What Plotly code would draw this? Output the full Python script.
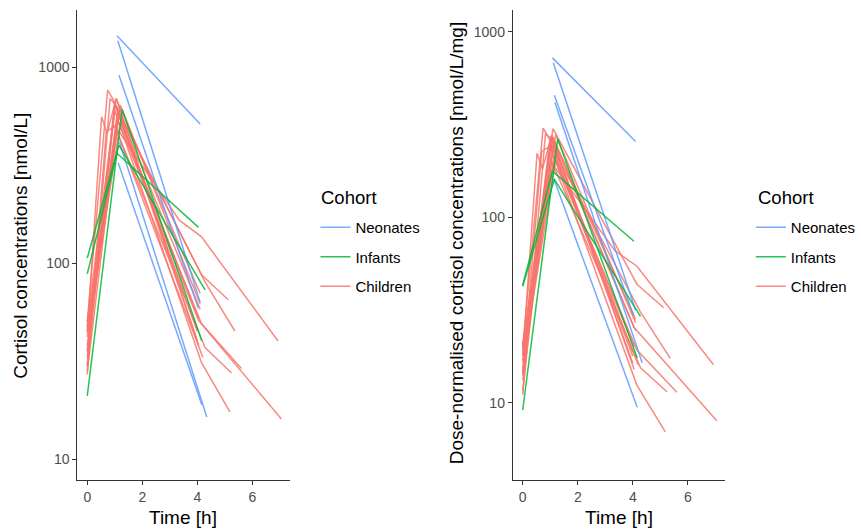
import plotly.graph_objects as go

W, H = 861, 530

# ---------------- data ----------------
cohorts = ["Neonates", "Infants", "Children"]
colors = {"Neonates": "#619CFF", "Infants": "#00BA38", "Children": "#F8766D"}

# Neonates: time [h], cortisol [nmol/L], dose [mg]
neo_times = [[1.08, 4.1], [1.11, 4.1], [1.15, 4.03], [1.12, 4.16], [1.17, 4.34]]
neo_conc = [[1445, 512], [1362, 63], [910, 59], [325, 18.9], [415, 16.4]]
neo_dose = [2.0, 2.0, 2.0, 2.0, 1.0]

# Infants
inf_times = [[0, 1.08, 4.04], [0, 1.15, 4.28], [0, 1.27, 4.16]]
inf_conc = [[88, 363, 152], [106, 400, 73], [21, 608, 40]]
inf_dose = [2.05, 2.5, 2.3]

# Children
chi_times = [
    [0, 1.1, 3.35, 4.15, 6.93],
    [0, 1.1, 4.15, 5.12],
    [0, 1.0, 4.28, 5.36],
    [0, 1.2, 4.15, 5.6],
    [0, 1.05, 4.28, 5.24],
    [0, 1.1, 4.04, 7.05],
    [0, 1.0, 4.15, 5.18],
    [0, 0.74, 0.95, 4.0],
    [0, 0.52, 0.72, 1.05, 4.05],
    [0, 1.13, 4.1],
    [0, 1.0, 4.0],
    [0, 1.2, 4.1],
    [0, 0.69, 1.0, 4.2],
    [0, 1.15, 4.05],
    [0, 0.83, 1.1, 4.0],
    [0, 1.05, 4.1],
]
chi_conc = [
    [45, 480, 165, 136, 40],
    [38, 600, 87, 65],
    [30, 650, 80, 45],
    [42, 520, 49, 29],
    [35, 480, 37, 27.5],
    [28, 540, 51, 16],
    [33, 600, 31, 17.4],
    [50, 763, 680, 45],
    [45, 557, 458, 692, 38],
    [48, 604, 58],
    [36, 653, 45],
    [47, 640, 62],
    [30, 468, 500, 33],
    [44, 560, 52],
    [27, 692, 620, 40],
    [50, 690, 70],
]
chi_dose = [2.5, 2.0, 2.6, 2.55, 2.4, 2.0, 2.5, 2.53, 2.52, 2.37, 2.4, 2.3, 2.07, 2.6, 2.45, 2.49]

x_ticks = [0, 2, 4, 6]
y_ticks = [10, 100, 1000]
y_ticktext = ["10", "100", "1000"]
legend_title = "Cohort"

groups = {
    "Neonates": (neo_times, neo_conc, neo_dose),
    "Infants": (inf_times, inf_conc, inf_dose),
    "Children": (chi_times, chi_conc, chi_dose),
}

# ---------------- figure ----------------
fig = go.Figure()
draw_order = ["Children", "Neonates", "Infants"]
for panel in (1, 2):
    xa = "x" if panel == 1 else "x2"
    ya = "y" if panel == 1 else "y2"
    lg = "legend" if panel == 1 else "legend2"
    for coh in draw_order:
        times, conc, dose = groups[coh]
        for i, (t, c, d) in enumerate(zip(times, conc, dose)):
            yv = c if panel == 1 else [v / d for v in c]
            fig.add_trace(go.Scatter(
                x=t, y=yv, mode="lines", name=coh,
                line=dict(color=colors[coh], width=1.5),
                opacity=0.85,
                xaxis=xa, yaxis=ya, legend=lg,
                legendgroup=f"{coh}{panel}",
                legendrank=cohorts.index(coh) + 1,
                showlegend=(i == 0),
                hoverinfo="skip",
            ))

def px_x(p):
    return p / W

def px_y(p):
    return 1 - p / H

axis_common = dict(
    showline=True, linecolor="#333333", linewidth=1.1,
    ticks="outside", ticklen=4, tickwidth=1.1, tickcolor="#333333",
    showgrid=False, zeroline=False,
    tickfont=dict(family="Liberation Sans, Arial, sans-serif", size=14, color="#4d4d4d"),
)

top, bottom = 10, 480
legend_common = dict(
    xanchor="left", yanchor="top",
    font=dict(size=15), tracegroupgap=7, traceorder="grouped",
    bgcolor="rgba(0,0,0,0)",
)
fig.update_layout(
    width=W, height=H,
    margin=dict(l=0, r=0, t=0, b=0),
    paper_bgcolor="white", plot_bgcolor="white",
    font=dict(family="Liberation Sans, Arial, sans-serif", color="black"),
    xaxis=dict(domain=[px_x(78), px_x(292)], range=[-0.36, 7.35], tickvals=x_ticks,
               anchor="y", **axis_common),
    yaxis=dict(domain=[px_y(bottom), px_y(top)], type="log", range=[0.893, 3.291],
               tickvals=y_ticks, ticktext=y_ticktext, anchor="x", **axis_common),
    xaxis2=dict(domain=[px_x(517), px_x(731)], range=[-0.36, 7.35], tickvals=x_ticks,
                anchor="y2", **axis_common),
    yaxis2=dict(domain=[px_y(bottom), px_y(top)], type="log", range=[0.583, 3.117],
                tickvals=y_ticks, ticktext=y_ticktext, anchor="x2", **axis_common),
    legend=dict(x=px_x(318), y=px_y(211), **legend_common),
    legend2=dict(x=px_x(757), y=px_y(211), **legend_common),
    showlegend=True,
)

# legend titles
for lx in (322, 762):
    fig.add_annotation(text=legend_title, x=px_x(lx), y=px_y(198), xref="paper", yref="paper",
                       showarrow=False, xanchor="left", yanchor="middle",
                       font=dict(family="Liberation Sans, Arial, sans-serif", size=18.5, color="black"))

title_font = dict(family="Liberation Sans, Arial, sans-serif", size=19, color="black")
fig.add_annotation(text="Cortisol concentrations [nmol/L]", x=px_x(20), y=px_y(246),
                   xref="paper", yref="paper", textangle=-90, showarrow=False,
                   xanchor="center", yanchor="middle", font=title_font)
fig.add_annotation(text="Dose-normalised cortisol concentrations [nmol/L/mg]", x=px_x(460), y=px_y(243),
                   xref="paper", yref="paper", textangle=-90, showarrow=False,
                   xanchor="center", yanchor="middle", font=title_font)
fig.add_annotation(text="Time [h]", x=px_x(185), y=px_y(517), xref="paper", yref="paper",
                   showarrow=False, xanchor="center", yanchor="middle", font=title_font)
fig.add_annotation(text="Time [h]", x=px_x(624), y=px_y(517), xref="paper", yref="paper",
                   showarrow=False, xanchor="center", yanchor="middle", font=title_font)

fig.write_html("out.html")
